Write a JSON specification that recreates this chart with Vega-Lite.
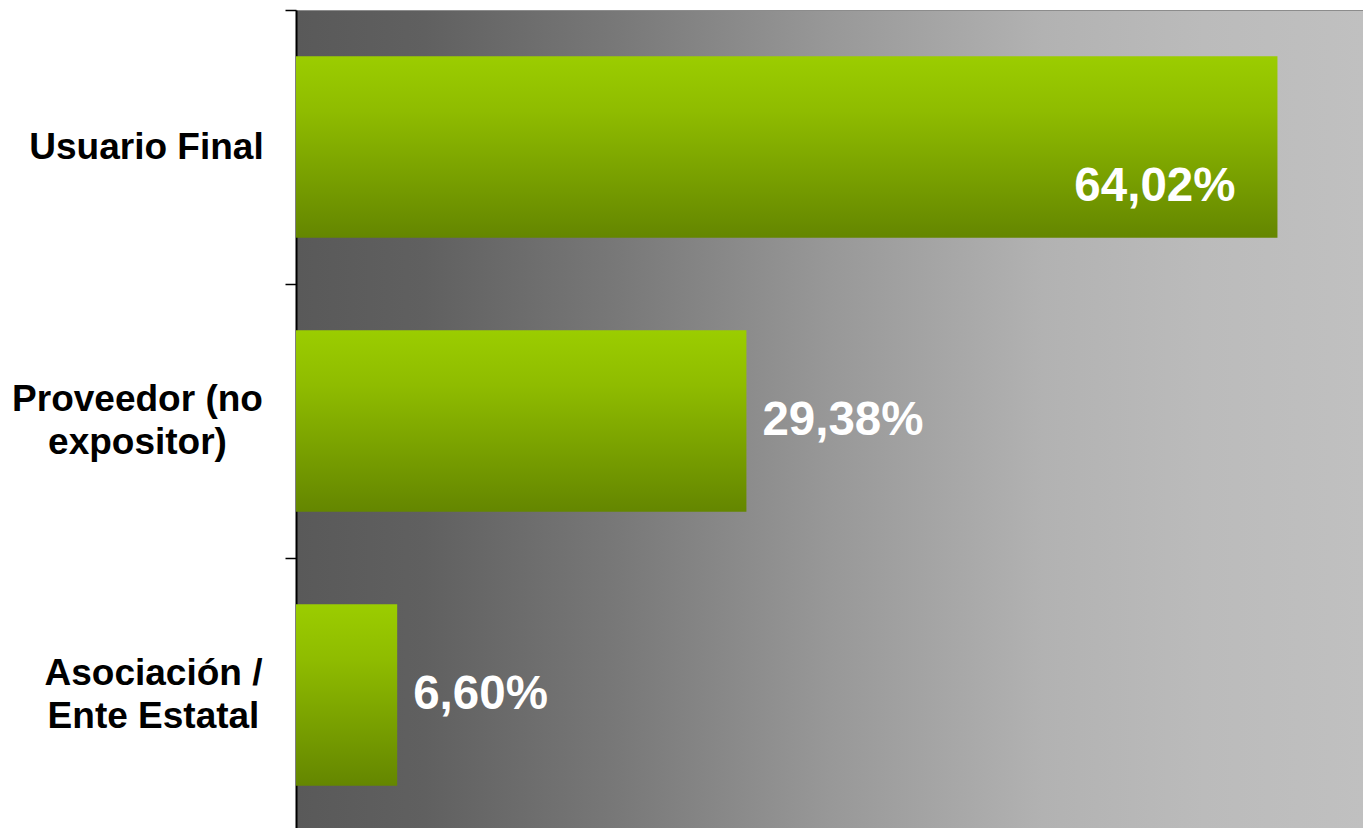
{
  "$schema": "https://vega.github.io/schema/vega-lite/v6.json",
  "width": 1067,
  "height": 822,
  "autosize": {"type": "none"},
  "padding": {"left": 296, "top": 10, "right": 0, "bottom": 0},
  "background": "white",
  "config": {
    "locale": {"number": {"decimal": ",", "thousands": ".", "grouping": [3], "currency": ["", " €"]}},
    "view": {
      "fill": {
        "gradient": "linear", "x1": 0, "y1": 0, "x2": 1, "y2": 0,
        "stops": [
          {"offset": 0, "color": "#595959"},
          {"offset": 0.12, "color": "#606060"},
          {"offset": 0.3, "color": "#787878"},
          {"offset": 0.5, "color": "#989898"},
          {"offset": 0.7, "color": "#b2b2b2"},
          {"offset": 0.85, "color": "#bbbbbb"},
          {"offset": 1, "color": "#c0c0c0"}
        ]
      },
      "stroke": "#8c8c8c",
      "strokeWidth": 1
    }
  },
  "data": {
    "values": [
      {"categoria": "Usuario Final", "valor": 0.6402},
      {"categoria": "Proveedor (no|expositor)", "valor": 0.2938},
      {"categoria": "Asociación /|Ente Estatal", "valor": 0.066}
    ]
  },
  "encoding": {
    "y": {
      "field": "categoria",
      "type": "nominal",
      "sort": null,
      "title": null,
      "scale": {"paddingInner": 0.3376, "paddingOuter": 0.1688},
      "axis": {
        "labelExpr": "split(datum.label, '|')",
        "domainColor": "#000000",
        "domainWidth": 2,
        "tickColor": "#000000",
        "tickWidth": 1.5,
        "tickSize": 11,
        "tickOffset": -137,
        "labelOffset": {
          "condition": {"test": "indexof(datum.label, '|') >= 0", "value": 115},
          "value": 137
        },
        "labelPadding": {
          "condition": [
            {"test": "indexof(datum.label, 'Proveedor') >= 0", "value": 148},
            {"test": "indexof(datum.label, 'Asociaci') >= 0", "value": 132}
          ],
          "value": 139
        },
        "labelFont": "Liberation Sans",
        "labelFontWeight": "bold",
        "labelFontSize": 37,
        "labelColor": "#000000",
        "labelAlign": "center",
        "labelBaseline": "middle",
        "labelLineHeight": 43,
        "labelLimit": 0
      }
    },
    "x": {
      "field": "valor",
      "type": "quantitative",
      "scale": {"domain": [0, 0.696]},
      "axis": null
    }
  },
  "layer": [
    {
      "mark": {
        "type": "bar",
        "color": {
          "gradient": "linear", "x1": 0, "y1": 0, "x2": 0, "y2": 1,
          "stops": [
            {"offset": 0, "color": "#9bcd00"},
            {"offset": 0.3, "color": "#8fbc00"},
            {"offset": 1, "color": "#648600"}
          ]
        }
      }
    },
    {
      "transform": [{"filter": "datum.valor > 0.5"}],
      "mark": {
        "type": "text",
        "align": "right",
        "baseline": "middle",
        "dx": -42,
        "dy": 40,
        "font": "Liberation Sans",
        "fontWeight": "bold",
        "fontSize": 47.5,
        "color": "#ffffff"
      },
      "encoding": {"text": {"field": "valor", "type": "quantitative", "format": ".2%"}}
    },
    {
      "transform": [{"filter": "datum.valor <= 0.5"}],
      "mark": {
        "type": "text",
        "align": "left",
        "baseline": "middle",
        "dx": 16,
        "dy": 0,
        "font": "Liberation Sans",
        "fontWeight": "bold",
        "fontSize": 47.5,
        "color": "#ffffff"
      },
      "encoding": {"text": {"field": "valor", "type": "quantitative", "format": ".2%"}}
    }
  ]
}
